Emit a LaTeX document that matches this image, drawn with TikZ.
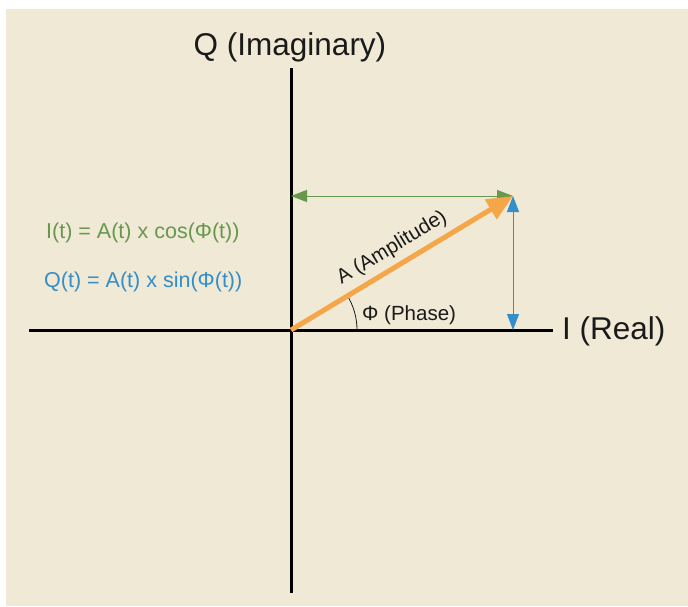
\documentclass[tikz,border=0pt]{standalone}
\usepackage{fontspec}
\setmainfont{Liberation Sans}
\usetikzlibrary{arrows.meta,calc}
\definecolor{bgc}{RGB}{239,233,214}
\definecolor{grn}{RGB}{104,152,78}
\definecolor{blu}{RGB}{52,142,200}
\definecolor{org}{RGB}{244,166,72}
\definecolor{txt}{RGB}{26,26,26}
\tikzset{
  axis/.style={line width=3pt, black},
  comp/.style={line width=1pt, {Triangle[length=16pt,width=12pt]}-{Triangle[length=16pt,width=12pt]}},
  big/.style={font=\fontsize{31.5}{36}\selectfont, text=txt, inner sep=0pt},
  lab/.style={font=\fontsize{20.5}{24}\selectfont, text=txt, inner sep=0pt},
  eqn/.style={font=\fontsize{21.5}{25}\selectfont, inner sep=0pt, anchor=west},
}
\begin{document}
\begin{tikzpicture}[x=1pt,y=-1pt]
\useasboundingbox (0,0) rectangle (688,607);
\fill[bgc] (6,9) rectangle (688,606);
% coordinates
\coordinate (O) at (291,330);
\coordinate (P) at (513,196);
\coordinate (Y) at (291,196);
\coordinate (X) at (513,330);
\coordinate (xl) at (29,330);
\coordinate (xr) at (553,330);
\coordinate (yt) at (291,68);
\coordinate (yb) at (291,593);
\coordinate (A0) at (357,330);
% axes
\draw[axis] (xl) -- (xr);
\draw[axis] (yt) -- (yb);
% components
\draw[comp, grn] (Y) -- (P);
\draw[comp, blu] (X) -- (P);
% phase arc (y axis points down, so arc goes clockwise on page)
\draw[line width=0.8pt, txt] (A0) arc[start angle=0, end angle=-31.1, radius=66];
% amplitude
\draw[line width=5pt, org, -{Triangle[length=26pt,width=22pt]}] (O) -- (P);
% labels
\node[big, anchor=base] (qlab) at (290,56) {Q (Imaginary)};
\node[big, anchor=west] (ilab) at (562,331) {I (Real)};
\node[eqn, text=grn] (eqI) at (46,233) {I(t) = A(t) x cos(Φ(t))};
\node[eqn, text=blu] (eqQ) at (44,282) {Q(t) = A(t) x sin(Φ(t))};
\node[lab, anchor=west] (phase) at (362,315) {Φ (Phase)};
\node[lab, rotate=31.1] (amp) at (392,248) {A (Amplitude)};
\end{tikzpicture}
\end{document}
